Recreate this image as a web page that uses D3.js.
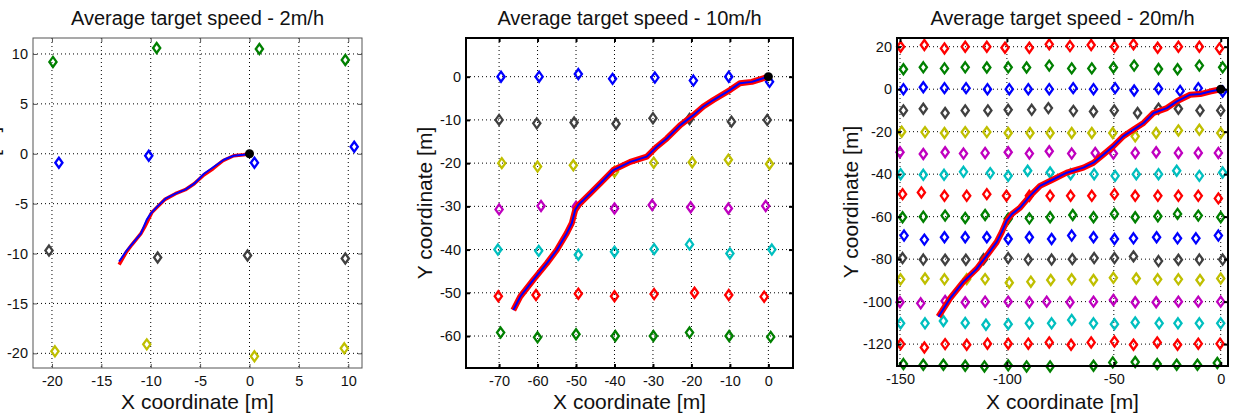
<!DOCTYPE html>
<html>
<head>
<meta charset="utf-8">
<script src="https://cdn.jsdelivr.net/npm/d3@7"></script>
<style>
  body { margin: 0; background: #fff; }
  svg text { font-family: "Liberation Sans", Arial, sans-serif; fill: #111; }
</style>
</head>
<body>
<svg id="fig" width="1233" height="417"></svg>
<script>

// colours used by the target rows (matlab style)
const palette = {
  blue: "#0000ff", green: "#008000", red: "#ff0000", cyan: "#00bfbf",
  magenta: "#bf00bf", yellow: "#bfbf00", gray: "#404040"
};

const titles = ["Average target speed - 2m/h", "Average target speed - 10m/h", "Average target speed - 20m/h"];

// ---------- panel 1 : 2m/h ----------
const p1XTicks = [-20, -15, -10, -5, 0, 5, 10];
const p1YTicks = [-20, -15, -10, -5, 0, 5, 10];
const p1RowColors = ["green", "blue", "gray", "yellow"];
const p1MarkerX = [
  [-19.9, -9.4, 1.0, 9.7],
  [-19.3, -10.2, 0.5, 10.6],
  [-20.3, -9.3, -0.2, 9.7],
  [-19.7, -10.4, 0.5, 9.6]
];
const p1MarkerY = [
  [9.2, 10.6, 10.5, 9.4],
  [-0.9, -0.2, -0.9, 0.7],
  [-9.7, -10.4, -10.2, -10.5],
  [-19.8, -19.1, -20.3, -19.5]
];
const p1TrackX = [-13.2, -12.4, -11.0, -10.4, -10.0, -9.35, -8.5, -7.5, -6.5, -5.6, -4.6, -3.6, -2.6, -1.6, -0.6, 0];
const p1TrackY = [-10.8, -9.65, -8.0, -6.6, -6.0, -5.3, -4.5, -4.0, -3.6, -3.0, -2.0, -1.3, -0.6, -0.2, -0.1, 0];
const p1RedX = [-13.2, -12.5, -11.9, -11.0, -10.6, -10.2, -9.9, -9.4, -8.6, -7.5, -6.5, -5.6, -4.6, -3.7, -2.7, -1.6, -0.6, 0];
const p1RedY = [-11.1, -9.9, -9.1, -8.0, -7.3, -6.5, -5.9, -5.4, -4.6, -4.0, -3.6, -3.0, -2.1, -1.5, -0.7, -0.2, -0.1, 0];

// ---------- panel 2 : 10m/h ----------
const p2XTicks = [-70, -60, -50, -40, -30, -20, -10, 0];
const p2YTicks = [-60, -50, -40, -30, -20, -10, 0];
const p2RowColors = ["blue", "gray", "yellow", "magenta", "cyan", "red", "green"];
const p2MarkerX = [
  [-69.5, -59.6, -49.4, -40.5, -29.5, -19.5, -10.3, 0.3],
  [-70.0, -60.2, -50.5, -39.6, -30.0, -20.5, -9.6, -0.3],
  [-69.3, -60.0, -50.7, -40.0, -29.8, -19.8, -10.4, 0.3],
  [-70.0, -59.1, -50.0, -40.0, -30.2, -20.2, -10.4, -0.7],
  [-70.3, -59.7, -49.4, -40.0, -29.7, -20.5, -10.0, 0.9],
  [-70.2, -60.4, -49.4, -40.0, -29.7, -19.2, -10.3, -1.1],
  [-69.6, -60.0, -50.0, -39.8, -29.9, -20.5, -10.2, 0.6]
];
const p2MarkerY = [
  [0.0, 0.0, 0.6, -0.5, -0.2, -0.9, 0.0, -1.2],
  [-10.0, -10.8, -10.6, -10.9, -9.6, -9.8, -10.4, -10.0],
  [-20.0, -20.8, -20.5, -22.0, -19.9, -19.8, -19.2, -20.2],
  [-30.7, -29.9, -30.1, -30.5, -29.7, -30.2, -30.5, -29.9],
  [-40.0, -40.3, -41.2, -40.5, -39.9, -38.8, -40.9, -40.0],
  [-50.8, -50.5, -50.2, -50.8, -50.3, -50.0, -50.5, -50.9],
  [-59.2, -60.3, -59.6, -60.0, -60.0, -59.2, -60.0, -60.2]
];
const p2TrackX = [-66.3, -64.5, -61.1, -57.6, -55.0, -52.4, -51.1, -50.2, -49.4, -46.3, -43.7, -40.3, -35.9, -31.6, -29.0, -26.4, -22.9, -19.5, -16.9, -14.3, -10.0, -7.4, -4.3, -2.2, 0];
const p2TrackY = [-54.0, -50.9, -47.0, -43.2, -40.1, -36.2, -33.9, -30.8, -29.7, -27.0, -24.7, -21.6, -19.7, -18.5, -16.2, -14.3, -11.2, -8.9, -6.9, -5.4, -3.1, -1.5, -1.2, -0.6, 0];

// ---------- panel 3 : 20m/h ----------
const p3XTicks = [-150, -100, -50, 0];
const p3YTicks = [-120, -100, -80, -60, -40, -20, 0, 20];
const p3RowColors = ["red", "green", "blue", "gray", "yellow", "magenta", "cyan", "red",
                     "green", "blue", "gray", "yellow", "magenta", "cyan", "red", "green"];
const p3MarkerX = [
  [-149.7, -138.6, -129.2, -119.5, -109.4, -100.9, -89.5, -80.2, -70.5, -60.6, -49.7, -40.8, -29.5, -19.8, -10.0, -0.6],
  [-148.4, -139.1, -129.2, -119.5, -109.4, -99.4, -90.8, -80.2, -69.7, -60.3, -50.2, -40.5, -29.1, -20.2, -10.0, 0.9],
  [-148.4, -139.1, -129.2, -119.1, -109.1, -98.9, -90.0, -80.2, -69.0, -59.5, -49.4, -40.5, -29.1, -19.0, -10.5, 0.9],
  [-148.4, -139.1, -128.9, -119.5, -108.9, -99.4, -88.4, -80.6, -68.9, -59.5, -49.8, -38.9, -29.1, -19.8, -9.7, 0.0],
  [-149.2, -138.3, -129.2, -119.5, -109.4, -99.4, -89.2, -79.8, -69.7, -60.3, -50.5, -40.0, -30.2, -19.8, -10.0, 0.0],
  [-150.0, -139.1, -128.9, -120.3, -110.2, -99.4, -89.5, -80.2, -69.7, -58.7, -50.2, -40.0, -30.2, -19.8, -10.5, -1.1],
  [-149.7, -139.1, -129.4, -120.3, -107.8, -99.4, -90.3, -79.8, -70.2, -59.2, -49.4, -39.5, -29.1, -20.6, -10.0, 0.9],
  [-148.8, -140.0, -129.2, -118.8, -109.4, -100.2, -89.5, -79.8, -70.2, -60.3, -49.7, -40.0, -29.4, -19.8, -10.5, -1.1],
  [-148.8, -139.1, -128.9, -119.5, -110.2, -99.4, -89.5, -79.8, -69.2, -59.5, -49.7, -40.0, -29.4, -20.2, -10.5, 0.0],
  [-148.1, -138.6, -129.2, -119.5, -109.4, -99.4, -89.5, -79.1, -69.7, -59.5, -49.7, -40.8, -30.0, -20.2, -11.6, -1.1],
  [-148.8, -139.1, -128.9, -119.2, -110.9, -99.4, -90.0, -79.1, -69.4, -59.2, -49.7, -40.8, -29.1, -19.8, -10.0, 0.9],
  [-149.7, -138.3, -129.2, -118.8, -110.2, -98.9, -88.8, -79.5, -69.7, -59.5, -50.2, -39.5, -29.5, -19.8, -9.7, 0.0],
  [-150.0, -140.3, -128.9, -119.5, -110.2, -99.4, -89.5, -81.4, -70.5, -59.5, -50.2, -40.0, -30.2, -19.8, -10.5, 0.0],
  [-149.7, -138.3, -129.7, -119.5, -109.8, -99.4, -89.5, -79.1, -69.7, -59.5, -49.7, -40.0, -28.8, -20.0, -10.0, 0.0],
  [-149.7, -138.6, -128.9, -118.8, -109.1, -99.4, -90.0, -80.2, -70.0, -60.6, -49.7, -40.8, -29.7, -20.2, -10.5, -0.3],
  [-148.4, -139.1, -129.7, -119.5, -110.5, -99.4, -90.8, -79.8, -70.0, -59.5, -50.5, -40.0, -29.7, -20.6, -10.9, -1.6]
];
const p3MarkerY = [
  [20.0, 20.8, 19.2, 20.0, 20.0, 19.5, 19.5, 21.1, 20.3, 20.8, 20.0, 21.1, 19.5, 20.0, 20.0, 19.2],
  [9.4, 10.3, 9.8, 10.3, 10.2, 10.3, 10.2, 11.1, 9.8, 9.8, 10.2, 11.1, 9.5, 9.4, 11.1, 10.3],
  [0.0, 0.9, 0.5, 0.5, 0.0, 0.0, 0.0, 0.0, 0.5, 0.0, 0.5, -0.6, 0.2, -0.8, 0.5, -1.1],
  [-10.0, -9.2, -11.2, -10.0, -10.0, -9.7, -9.7, -8.9, -10.2, -10.5, -10.0, -11.2, -9.2, -9.2, -10.0, -10.0],
  [-20.0, -20.2, -20.6, -20.2, -20.2, -20.6, -20.6, -20.6, -20.6, -20.6, -20.6, -22.2, -20.6, -19.4, -19.1, -20.6],
  [-29.7, -30.5, -29.7, -30.3, -30.0, -29.7, -30.3, -29.2, -30.3, -30.0, -30.3, -30.0, -29.7, -30.0, -30.0, -30.0],
  [-40.0, -40.3, -40.3, -38.9, -39.5, -40.8, -38.4, -39.2, -40.0, -40.0, -40.8, -40.0, -40.0, -38.4, -40.8, -39.2],
  [-49.4, -48.6, -50.2, -50.2, -49.4, -50.2, -50.2, -50.2, -50.2, -50.2, -49.4, -50.2, -50.2, -50.2, -50.2, -51.4],
  [-60.3, -60.0, -59.5, -60.6, -59.2, -61.0, -60.8, -60.3, -59.2, -60.3, -58.7, -60.3, -59.8, -58.7, -59.5, -60.3],
  [-68.9, -70.8, -69.7, -69.7, -69.7, -70.5, -69.7, -70.5, -68.9, -69.7, -70.5, -70.2, -69.7, -70.2, -70.2, -68.9],
  [-79.5, -80.2, -80.3, -80.3, -80.0, -79.5, -80.2, -80.2, -80.0, -79.5, -79.5, -78.7, -80.9, -80.3, -80.2, -80.2],
  [-89.5, -89.1, -89.5, -89.4, -89.4, -91.1, -90.6, -89.8, -89.5, -89.8, -88.8, -89.1, -89.5, -89.5, -89.8, -89.1],
  [-100.3, -100.8, -99.7, -100.3, -100.0, -100.0, -100.3, -100.0, -100.3, -100.0, -99.2, -100.3, -100.3, -100.0, -100.0, -100.0],
  [-110.2, -110.2, -109.1, -110.0, -110.9, -110.6, -110.2, -110.2, -108.6, -110.2, -110.6, -109.8, -110.2, -110.2, -110.2, -110.2],
  [-120.0, -121.6, -120.0, -120.3, -119.8, -119.8, -119.8, -119.2, -120.3, -119.2, -118.8, -120.3, -119.2, -120.3, -119.8, -119.8],
  [-129.4, -129.7, -129.7, -130.2, -130.5, -130.0, -130.5, -130.5, -132.0, -130.2, -128.6, -128.4, -129.4, -129.7, -129.7, -128.9]
];
const p3TrackX = [-132.0, -126.6, -120.4, -114.1, -109.4, -104.8, -102.4, -100.1, -97.7, -93.8, -89.2, -84.5, -78.2, -72.0, -64.2, -59.5, -54.8, -50.2, -45.5, -40.8, -36.1, -31.4, -25.2, -20.5, -14.3, -9.6, -5.0, 0];
const p3TrackY = [-107.1, -98.5, -90.7, -84.5, -78.3, -72.0, -67.3, -61.9, -58.8, -55.7, -50.2, -45.5, -42.4, -39.3, -36.9, -34.6, -30.7, -26.8, -22.1, -19.0, -15.9, -11.2, -8.9, -5.7, -2.6, -2.3, -1.1, 0];

// box position on the page + visible data range, per panel
const panels = [
  { left: 33, right: 362, top: 38, bottom: 368, xDom: [-21.92, 11.39], yDom: [-21.47, 11.6],
    xTicks: p1XTicks, yTicks: p1YTicks, rowColors: p1RowColors, mx: p1MarkerX, my: p1MarkerY,
    redX: p1RedX, redY: p1RedY, blueX: p1TrackX, blueY: p1TrackY, redW: 3.5, thin: true, ylabOff: 34 },
  { left: 466, right: 793, top: 38, bottom: 368, xDom: [-78.6, 6.4], yDom: [-67.4, 8.95],
    xTicks: p2XTicks, yTicks: p2YTicks, rowColors: p2RowColors, mx: p2MarkerX, my: p2MarkerY,
    redX: p2TrackX, redY: p2TrackY, blueX: p2TrackX, blueY: p2TrackY, redW: 6, thin: false, ylabOff: 34 },
  { left: 897, right: 1228, top: 38, bottom: 366, xDom: [-151.4, 3.4], yDom: [-130.3, 24.1],
    xTicks: p3XTicks, yTicks: p3YTicks, rowColors: p3RowColors, mx: p3MarkerX, my: p3MarkerY,
    redX: p3TrackX, redY: p3TrackY, blueX: p3TrackX, blueY: p3TrackY, redW: 6, thin: false, ylabOff: 39 }
];

const svg = d3.select("#fig");
const diamond = "M0,-5L3.6,0L0,5L-3.6,0Z";

const drawPanel = (p, i) => {
  const x = d3.scaleLinear().domain(p.xDom).range([p.left, p.right]);
  const y = d3.scaleLinear().domain(p.yDom).range([p.bottom, p.top]);
  const g = svg.append("g");
  const boxColor = p.thin ? "#555" : "#000";
  const boxW = p.thin ? 1 : 2;

  // dotted grid
  g.selectAll(".gx").data(p.xTicks).enter().append("line")
    .attr("x1", d => x(d)).attr("x2", d => x(d))
    .attr("y1", p.top).attr("y2", p.bottom)
    .attr("stroke", "#000").attr("stroke-width", 1).attr("stroke-dasharray", "1,3");
  g.selectAll(".gy").data(p.yTicks).enter().append("line")
    .attr("y1", d => y(d)).attr("y2", d => y(d))
    .attr("x1", p.left).attr("x2", p.right)
    .attr("stroke", "#000").attr("stroke-width", 1).attr("stroke-dasharray", "1,3");

  // target markers
  const pts = [];
  p.mx.forEach((row, r) => row.forEach((vx, c) => {
    const vy = p.my[r][c];
    if (vy >= p.yDom[0] - 0.3 && vy <= p.yDom[1] && vx >= p.xDom[0] && vx <= p.xDom[1])
      pts.push({ x: vx, y: vy, col: palette[p.rowColors[r]] });
  }));
  g.selectAll(".mk").data(pts).enter().append("path")
    .attr("d", diamond)
    .attr("transform", d => `translate(${x(d.x)},${y(d.y)})`)
    .attr("fill", "none")
    .attr("stroke", d => d.col)
    .attr("stroke-width", 2.3);

  // trajectory: red measured, blue estimate on top
  const track = d3.line().x(d => x(d[0])).y(d => y(d[1]));
  g.append("path")
    .attr("d", track(d3.zip(p.redX, p.redY)))
    .attr("fill", "none").attr("stroke", "#ff0000")
    .attr("stroke-width", p.redW).attr("stroke-linejoin", "round");
  g.append("path")
    .attr("d", track(d3.zip(p.blueX, p.blueY)))
    .attr("fill", "none").attr("stroke", "#0000ff")
    .attr("stroke-width", 2).attr("stroke-linejoin", "round");

  // start point
  g.append("circle")
    .attr("cx", x(0)).attr("cy", y(0)).attr("r", 4.5).attr("fill", "#000");

  // axes, ticks pointing inside
  const fmt = d => String(d);
  const bottomAx = g.append("g").attr("transform", `translate(0,${p.bottom})`)
    .call(d3.axisBottom(x).tickValues(p.xTicks).tickSizeInner(-4).tickSizeOuter(0).tickPadding(8).tickFormat(fmt));
  const leftAx = g.append("g").attr("transform", `translate(${p.left},0)`)
    .call(d3.axisLeft(y).tickValues(p.yTicks).tickSizeInner(-4).tickSizeOuter(0).tickPadding(5).tickFormat(fmt));
  const topAx = g.append("g").attr("transform", `translate(0,${p.top})`)
    .call(d3.axisTop(x).tickValues(p.xTicks).tickSizeInner(-4).tickSizeOuter(0).tickFormat(""));
  const rightAx = g.append("g").attr("transform", `translate(${p.right},0)`)
    .call(d3.axisRight(y).tickValues(p.yTicks).tickSizeInner(-4).tickSizeOuter(0).tickFormat(""));

  [bottomAx, leftAx, topAx, rightAx].forEach(ax => {
    ax.select(".domain").remove();
    ax.selectAll(".tick line").attr("stroke", boxColor).attr("stroke-width", boxW);
    ax.selectAll("text").attr("font-size", 14.5).attr("fill", "#222")
      .style("font-family", "'Liberation Sans', Arial, sans-serif");
  });

  // box
  g.append("rect")
    .attr("x", p.left).attr("y", p.top)
    .attr("width", p.right - p.left).attr("height", p.bottom - p.top)
    .attr("fill", "none").attr("stroke", boxColor).attr("stroke-width", boxW);

  // labels
  const cx = (p.left + p.right) / 2;
  const cy = (p.top + p.bottom) / 2;
  g.append("text").attr("x", cx).attr("y", 25)
    .attr("text-anchor", "middle").attr("font-size", 20).text(titles[i]);
  g.append("text").attr("x", cx).attr("y", 409)
    .attr("text-anchor", "middle").attr("font-size", 21).text("X coordinate [m]");
  g.append("text")
    .attr("transform", `translate(${p.left - p.ylabOff},${cy}) rotate(-90)`)
    .attr("text-anchor", "middle").attr("font-size", 21).text("Y coordinate [m]");
};

panels.forEach(drawPanel);
</script>
</body>
</html>
